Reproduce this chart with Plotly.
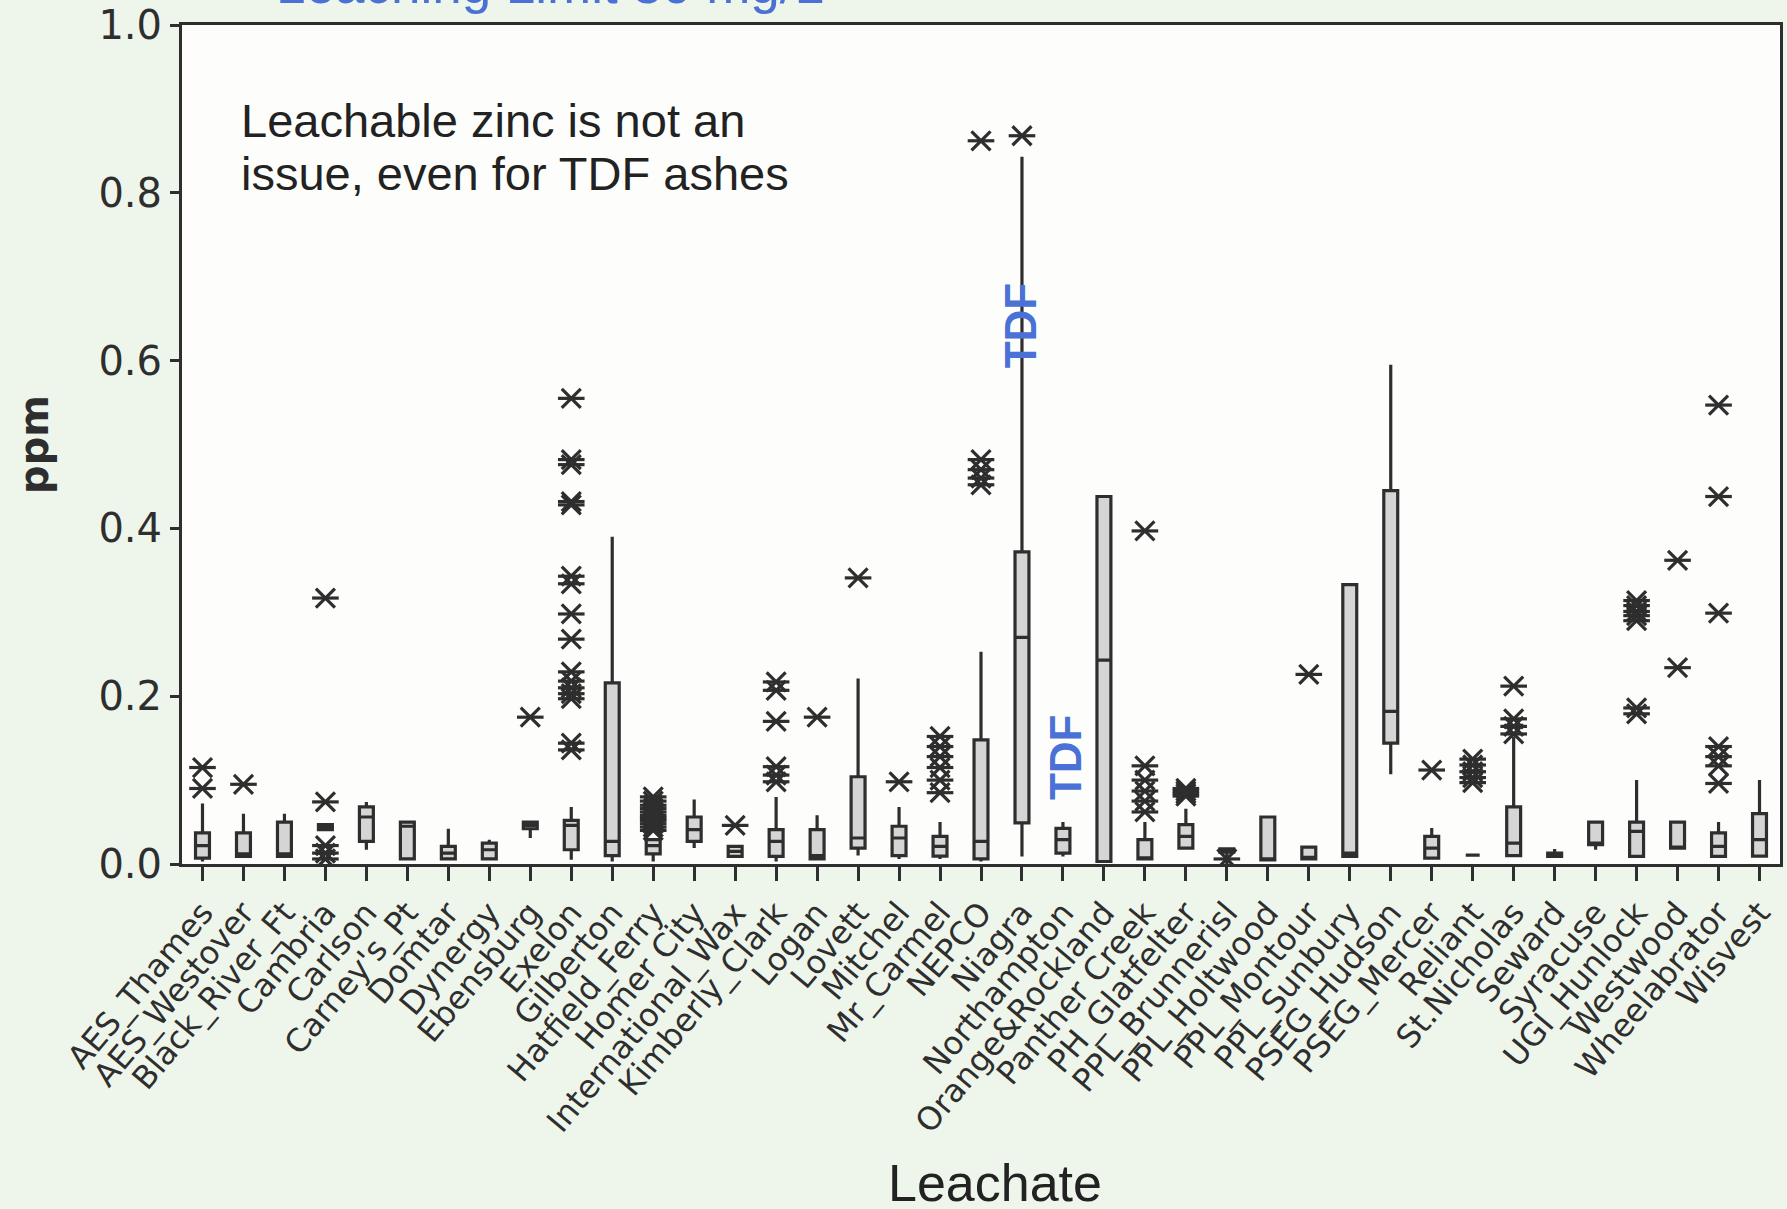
import plotly.graph_objects as go

# Leachate sites along the x axis
sites = [
    "AES_Thames", "AES_Westover", "Black_River_Ft", "Cambria", "Carlson",
    "Carney's_Pt", "Domtar", "Dynergy", "Ebensburg", "Exelon", "Gilberton",
    "Hatfield_Ferry", "Homer City", "International_Wax", "Kimberly_Clark",
    "Logan", "Lovett", "Mitchel", "Mr_Carmel", "NEPCO", "Niagra",
    "Northampton", "Orange&Rockland", "Panther Creek", "PH_Glatfelter",
    "PPL_Brunnerisl", "PPL_Holtwood", "PPL_Montour", "PPL_Sunbury",
    "PSEG_Hudson", "PSEG_Mercer", "Reliant", "St.Nicholas", "Seward",
    "Syracuse", "UGI_Hunlock", "Westwood", "Wheelabrator", "Wisvest",
]

# Box statistics for leachable zinc (ppm)
q1 = [0.007, 0.009, 0.009, 0.041, 0.027, 0.006, 0.006, 0.006, 0.042, 0.017,
      0.010, 0.012, 0.027, 0.009, 0.009, 0.006, 0.019, 0.010, 0.0095, 0.006,
      0.049, 0.013, 0.003, 0.006, 0.019, 0.014, 0.005, 0.006, 0.009, 0.144,
      0.007, 0.0105, 0.010, 0.009, 0.023, 0.009, 0.019, 0.009, 0.0095]
median = [0.022, 0.012, 0.012, 0.044, 0.056, 0.045, 0.013, 0.017, 0.046, 0.046,
          0.027, 0.022, 0.041, 0.015, 0.027, 0.010, 0.031, 0.031, 0.021, 0.027,
          0.270, 0.029, 0.243, 0.007, 0.033, 0.016, 0.005, 0.008, 0.013, 0.182,
          0.019, 0.0105, 0.025, 0.011, 0.025, 0.039, 0.020, 0.021, 0.029]
q3 = [0.037, 0.037, 0.050, 0.047, 0.068, 0.050, 0.021, 0.025, 0.050, 0.052,
      0.216, 0.029, 0.056, 0.021, 0.041, 0.041, 0.104, 0.045, 0.033, 0.148,
      0.372, 0.0425, 0.438, 0.029, 0.047, 0.018, 0.056, 0.020, 0.333, 0.445,
      0.033, 0.0105, 0.068, 0.013, 0.050, 0.050, 0.050, 0.037, 0.060]
lower = [0.003, 0.009, 0.009, 0.041, 0.017, 0.006, 0.006, 0.006, 0.031, 0.005,
         0.003, 0.003, 0.019, 0.009, 0.003, 0.006, 0.010, 0.006, 0.006, 0.003,
         0.009, 0.009, 0.003, 0.006, 0.019, 0.000, 0.005, 0.006, 0.009, 0.107,
         0.007, 0.0105, 0.010, 0.009, 0.017, 0.009, 0.019, 0.009, 0.0095]
upper = [0.072, 0.060, 0.060, 0.047, 0.074, 0.050, 0.042, 0.029, 0.050, 0.068,
         0.390, 0.029, 0.077, 0.021, 0.080, 0.058, 0.221, 0.068, 0.050, 0.253,
         0.843, 0.050, 0.438, 0.050, 0.066, 0.018, 0.056, 0.020, 0.333, 0.595,
         0.043, 0.0105, 0.152, 0.018, 0.050, 0.100, 0.050, 0.050, 0.100]

# Outlying observations per site (ppm)
outliers = [
    [0.115, 0.090],
    [0.095],
    [],
    [0.317, 0.074, 0.022, 0.013, 0.006],
    [],
    [],
    [],
    [],
    [0.175],
    [0.555, 0.482, 0.476, 0.432, 0.428, 0.343, 0.334, 0.298, 0.268, 0.229,
     0.218, 0.210, 0.203, 0.197, 0.144, 0.136],
    [],
    [0.080, 0.075, 0.070, 0.066, 0.062, 0.058, 0.055, 0.052, 0.048, 0.044, 0.040],
    [],
    [0.046],
    [0.217, 0.207, 0.170, 0.116, 0.106, 0.098],
    [0.175],
    [0.341],
    [0.098],
    [0.152, 0.140, 0.128, 0.115, 0.100, 0.085],
    [0.862, 0.482, 0.470, 0.460, 0.452],
    [0.868],
    [],
    [],
    [0.397, 0.117, 0.100, 0.087, 0.075, 0.062],
    [0.090, 0.087, 0.084, 0.081],
    [0.006],
    [],
    [0.226],
    [],
    [],
    [0.112],
    [0.125, 0.118, 0.110, 0.103, 0.097],
    [0.212, 0.173, 0.164, 0.155],
    [],
    [],
    [0.314, 0.308, 0.301, 0.296, 0.290, 0.186, 0.179],
    [0.362, 0.234],
    [0.547, 0.438, 0.299, 0.140, 0.128, 0.117, 0.096],
    [],
]

y_ticks = [0.0, 0.2, 0.4, 0.6, 0.8, 1.0]
y_tick_text = ["0.0", "0.2", "0.4", "0.6", "0.8", "1.0"]

INK = "#2e2e2e"
BLUE = "#4a72d6"
positions = list(range(len(sites)))

out_x = [i for i, vals in enumerate(outliers) for _ in vals]
out_y = [v for vals in outliers for v in vals]

fig = go.Figure()

fig.add_trace(go.Box(
    x=positions, q1=q1, median=median, q3=q3,
    lowerfence=lower, upperfence=upper,
    boxpoints=False, width=0.34, whiskerwidth=0,
    fillcolor="#d5d5d5", line=dict(color=INK, width=3.2),
    hoverinfo="skip", showlegend=False,
))

# asterisk markers built from a horizontal bar plus a diagonal cross
for sym in ["line-ew-open", "x-thin-open"]:
    fig.add_trace(go.Scatter(
        x=out_x, y=out_y, mode="markers",
        marker=dict(symbol=sym, size=19, color=INK,
                    line=dict(color=INK, width=3.2)),
        hoverinfo="skip", showlegend=False,
    ))

W, H = 1787, 1209
L, R, T, B = 182, 7, 25, 345
plot_w = W - L - R
plot_h = H - T - B


def px_to_paper_x(px):
    return (px - L) / plot_w


def px_to_paper_y(py):
    return (H - B - py) / plot_h


fig.update_layout(
    width=W, height=H,
    margin=dict(l=L, r=R, t=T, b=B),
    paper_bgcolor="#eef6ec",
    plot_bgcolor="#fdfefc",
    showlegend=False,
    xaxis=dict(
        range=[-0.5, len(sites) - 0.5],
        tickmode="array", tickvals=positions, ticktext=sites,
        tickangle=-50, ticks="outside", ticklen=14, tickwidth=2.5,
        tickcolor=INK, showline=True, linewidth=3, linecolor=INK,
        mirror=True, showgrid=False, zeroline=False, automargin=False,
        tickfont=dict(family="DejaVu Sans, Verdana, sans-serif", size=32, color=INK),
    ),
    yaxis=dict(
        range=[0, 1.0],
        tickmode="array", tickvals=y_ticks, ticktext=y_tick_text,
        ticks="outside", ticklen=9, tickwidth=2.5, tickcolor=INK,
        showline=True, linewidth=3, linecolor=INK, mirror=True,
        showgrid=False, zeroline=False, automargin=False,
        tickfont=dict(family="DejaVu Sans, Verdana, sans-serif", size=40, color=INK),
    ),
    annotations=[
        dict(text="Leaching Limit 30 mg/L", xref="paper", yref="paper",
             x=px_to_paper_x(274), y=px_to_paper_y(16),
             xanchor="left", yanchor="bottom", showarrow=False,
             font=dict(family="Liberation Sans, Arial, sans-serif", size=53, color=BLUE)),
        dict(text="Leachable zinc is not an", xref="paper", yref="y",
             x=px_to_paper_x(239), y=0.886, xanchor="left", yanchor="middle",
             showarrow=False,
             font=dict(family="Liberation Sans, Arial, sans-serif", size=47, color="#222222")),
        dict(text="issue, even for TDF ashes", xref="paper", yref="y",
             x=px_to_paper_x(239), y=0.8236, xanchor="left", yanchor="middle",
             showarrow=False,
             font=dict(family="Liberation Sans, Arial, sans-serif", size=47, color="#222222")),
        dict(text="<b>ppm</b>", xref="paper", yref="paper",
             x=px_to_paper_x(34), y=px_to_paper_y(445), textangle=-90,
             xanchor="center", yanchor="middle", showarrow=False,
             font=dict(family="DejaVu Sans, Verdana, sans-serif", size=40, color=INK)),
        dict(text="Leachate", xref="paper", yref="paper",
             x=px_to_paper_x(995), y=px_to_paper_y(1183),
             xanchor="center", yanchor="middle", showarrow=False,
             font=dict(family="Liberation Sans, Arial, sans-serif", size=52, color="#222222")),
        dict(text="<b>TDF</b>", xref="x", yref="y", x=19.95, y=0.642,
             textangle=-90, showarrow=False,
             font=dict(family="Liberation Sans, Arial, sans-serif", size=44, color=BLUE)),
        dict(text="<b>TDF</b>", xref="x", yref="y", x=21.05, y=0.1275,
             textangle=-90, showarrow=False,
             font=dict(family="Liberation Sans, Arial, sans-serif", size=44, color=BLUE)),
    ],
)

fig.write_html("out.html")
